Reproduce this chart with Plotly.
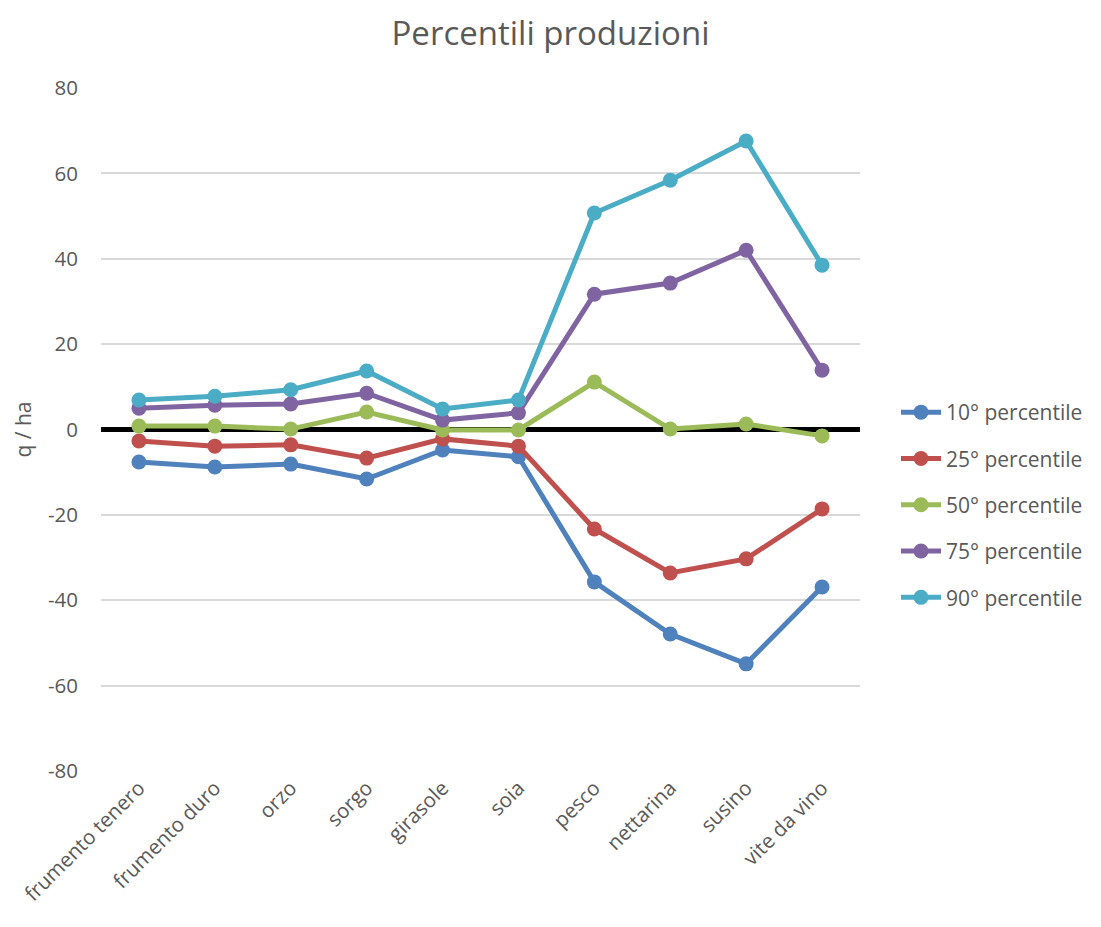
import plotly.graph_objects as go

# Crop categories along the x axis
categories = ["frumento tenero", "frumento duro", "orzo", "sorgo", "girasole",
              "soia", "pesco", "nettarina", "susino", "vite da vino"]

# Yield deviations (q / ha) by percentile
p10 = [-7.6, -8.8, -8.1, -11.6, -4.8, -6.4, -35.7, -47.9, -54.9, -36.9]
p25 = [-2.7, -3.9, -3.6, -6.7, -2.2, -3.9, -23.3, -33.6, -30.3, -18.6]
p50 = [0.8, 0.8, 0.1, 4.1, -0.1, -0.1, 11.1, 0.1, 1.3, -1.5]
p75 = [5.0, 5.7, 6.0, 8.5, 2.2, 3.9, 31.7, 34.3, 42.0, 13.9]
p90 = [6.9, 7.8, 9.3, 13.7, 4.8, 6.9, 50.7, 58.4, 67.6, 38.5]

series_names = ["10° percentile", "25° percentile", "50° percentile",
                "75° percentile", "90° percentile"]
series_values = [p10, p25, p50, p75, p90]
colors = ["#4F81BD", "#C0504D", "#9BBB59", "#8064A2", "#4BACC6"]

y_ticks = [-80, -60, -40, -20, 0, 20, 40, 60, 80]

fig = go.Figure()
for name, vals, col in zip(series_names, series_values, colors):
    fig.add_trace(go.Scatter(
        x=categories, y=vals, name=name, legendgroup=name,
        mode="lines+markers",
        line=dict(color=col, width=5),
        marker=dict(color=col, size=15),
    ))

font_family = "Open Sans, Liberation Sans, sans-serif"
text_color = "#595959"
fig.update_layout(
    width=1101, height=927,
    paper_bgcolor="white", plot_bgcolor="white",
    margin=dict(l=101, r=241, t=88, b=156),
    title=dict(text="Percentili produzioni", x=0.5, xanchor="center",
               y=1 - 33 / 927, yanchor="middle",
               font=dict(family=font_family, size=33, color=text_color)),
    font=dict(family=font_family, color=text_color),
    legend=dict(x=1.0 + 36 / 759, xanchor="left",
                y=(771 - 505) / 683, yanchor="middle",
                xref="paper", yref="paper",
                font=dict(size=21, color=text_color),
                itemwidth=40, tracegroupgap=16,
                bgcolor="rgba(0,0,0,0)"),
    showlegend=True,
)
fig.update_xaxes(
    type="category", range=[-0.5, 9.5],
    tickangle=-45, tickfont=dict(size=20.5, color=text_color),
    showgrid=False, showline=False, ticks="", zeroline=False,
)
fig.update_yaxes(
    range=[-80, 80], tickvals=y_ticks, ticktext=[str(v) for v in y_ticks],
    tickfont=dict(size=20.5, color=text_color),
    showgrid=True, gridcolor="#D9D9D9", gridwidth=1.5,
    zeroline=True, zerolinecolor="black", zerolinewidth=5,
    showline=False, ticks="", ticklabelstandoff=22,
    title=dict(text="q / ha", font=dict(size=21, color=text_color), standoff=10),
)

fig.write_html("out.html")
